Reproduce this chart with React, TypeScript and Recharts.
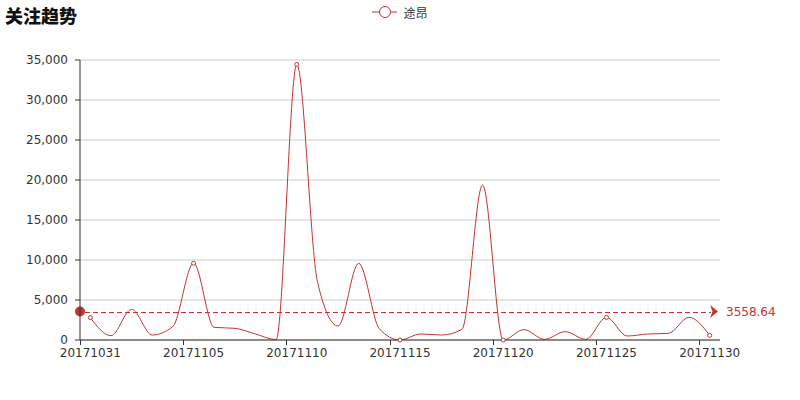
import React from 'react';
import { LineChart, Line, XAxis, YAxis, CartesianGrid, ReferenceLine } from 'recharts';

const dates = [
  '20171031', '20171101', '20171102', '20171103', '20171104', '20171105', '20171106', '20171107',
  '20171108', '20171109', '20171110', '20171111', '20171112', '20171113', '20171114', '20171115',
  '20171116', '20171117', '20171118', '20171119', '20171120', '20171121', '20171122', '20171123',
  '20171124', '20171125', '20171126', '20171127', '20171128', '20171129', '20171130',
];
const values = [
  2800, 540, 3830, 625, 1700, 9600, 1580, 1460,
  750, 50, 34450, 7300, 1750, 9580, 1400, 0,
  750, 625, 1330, 19375, 0, 1300, 80, 1040,
  80, 2830, 500, 750, 830, 2830, 580,
];
const yTicks = [0, 5000, 10000, 15000, 20000, 25000, 30000, 35000];
const seriesName = '途昂';
const averageValue = 3558.64;
const title = '关注趋势';

const data = dates.map((d, i) => ({ date: d, value: values[i] }));

const RED = '#c23531';
const W = 800;
const H = 400;
const PLOT_LEFT = 80;
const PLOT_RIGHT = 80;
const HALF_BAND = (W - PLOT_LEFT - PLOT_RIGHT) / dates.length / 2;

const XTick = (props: any) => {
  const { x, y, payload } = props;
  const tx = Math.round(payload.coordinate - HALF_BAND) + 0.5;
  return (
    <g>
      <line x1={tx} x2={tx} y1={340} y2={345} stroke="#333" />
      <text x={x} y={y} dy="0.71em" textAnchor="middle" fontSize={12} fill="#333">
        {payload.value}
      </text>
    </g>
  );
};

const renderDot = (props: any) => {
  const { cx, cy, index } = props;
  if (index % 5 !== 0) return <g key={`d${index}`} />;
  return <circle key={`d${index}`} cx={cx} cy={cy} r={2} fill="#fff" stroke={RED} strokeWidth={1} />;
};

const AvgLabel = (props: any) => {
  const vb = props.viewBox || {};
  const x1 = vb.x;
  const y = vb.y;
  const x2 = vb.x + vb.width;
  const ly = Math.round(y) + 0.5;
  return (
    <g>
      <line x1={x1 + 5} x2={x2 - 9} y1={ly} y2={ly} stroke={RED} strokeWidth={1} strokeDasharray="5 3" />
      <circle cx={x1} cy={y} r={5} fill={RED} />
      <polygon points={`${x2 - 10},${y - 6.5} ${x2 - 2},${y} ${x2 - 10},${y + 6.5} ${x2 - 7.5},${y}`} fill={RED} />
      <text x={x2 + 6} y={y} dy="0.35em" fontSize={12} fill={RED}>
        {averageValue.toFixed(2)}
      </text>
    </g>
  );
};

export default function App() {
  return (
    <div style={{ position: 'absolute', left: 0, top: 0, width: W, height: H, background: '#fff', fontFamily: '"DejaVu Sans", sans-serif' }}>
      <div
        style={{
          position: 'absolute',
          left: 5,
          top: 3,
          fontSize: 18,
          fontWeight: 900,
          color: '#111',
          fontFamily: '"Noto Sans CJK SC", sans-serif',
          lineHeight: '24px',
          zIndex: 2,
        }}
      >
        {title}
      </div>
      <div
        style={{
          position: 'absolute',
          left: 0,
          top: 0,
          width: W,
          height: 24,
          display: 'flex',
          justifyContent: 'center',
          alignItems: 'center',
          zIndex: 2,
        }}
      >
        <svg width={25} height={14} style={{ marginRight: 6 }}>
          <line x1={0} x2={25} y1={7} y2={7} stroke={RED} strokeWidth={1} />
          <circle cx={13} cy={7} r={5.5} fill="#fff" stroke={RED} strokeWidth={1} />
        </svg>
        <span style={{ fontSize: 12, color: '#333', fontFamily: '"Noto Sans CJK SC", sans-serif' }}>{seriesName}</span>
      </div>
      <LineChart width={W} height={H} data={data} margin={{ top: 60, right: PLOT_RIGHT, bottom: 30, left: 0 }}>
        <CartesianGrid horizontal vertical={false} stroke="#ccc" />
        <XAxis
          dataKey="date"
          interval={4}
          padding={{ left: HALF_BAND, right: HALF_BAND }}
          tick={<XTick />}
          tickLine={false}
          tickSize={5}
          tickMargin={3}
          axisLine={{ stroke: '#333' }}
          height={30}
        />
        <YAxis
          width={PLOT_LEFT}
          domain={[0, 35000]}
          ticks={yTicks}
          tickFormatter={(v: number) => v.toLocaleString('en-US')}
          tick={{ fontSize: 12, fill: '#333' }}
          tickSize={5}
          tickMargin={7}
          axisLine={{ stroke: '#333' }}
          tickLine={{ stroke: '#333' }}
        />
        <ReferenceLine y={averageValue} stroke="none" strokeOpacity={0} label={(p: any) => <AvgLabel {...p} />} />
        <Line
          type="monotone"
          dataKey="value"
          name={seriesName}
          stroke={RED}
          strokeWidth={1}
          dot={renderDot}
          activeDot={false}
          isAnimationActive={false}
        />
      </LineChart>
    </div>
  );
}
